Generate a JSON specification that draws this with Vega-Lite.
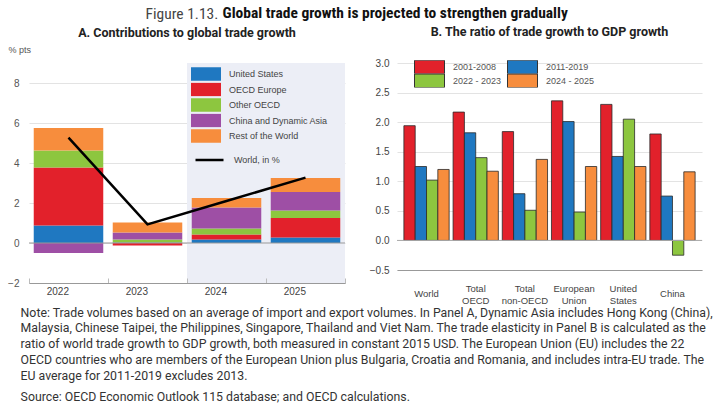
{
  "$schema": "https://vega.github.io/schema/vega-lite/v6.json",
  "background": "white",
  "padding": {"left": 7, "right": 5, "top": 6, "bottom": 5},
  "config": {
    "view": {"stroke": null},
    "font": "Liberation Sans",
    "axis": {"labelFont": "Liberation Sans", "labelColor": "#555", "labelFontSize": 10},
    "legend": {"labelFont": "Liberation Sans", "labelColor": "#555"}
  },
  "title": {
    "text": "Figure 1.13.",
    "anchor": "start",
    "dx": 138,
    "offset": -16,
    "font": "Roboto Condensed, Liberation Sans Narrow, DejaVu Sans Condensed, sans-serif",
    "fontSize": 15.5,
    "fontWeight": "normal",
    "color": "#444"
  },
  "vconcat": [
    {
      "title": {
        "text": "Global trade growth is projected to strengthen gradually",
        "anchor": "start",
        "dx": 215,
        "offset": 4,
        "font": "Roboto Condensed, Liberation Sans Narrow, DejaVu Sans Condensed, sans-serif",
        "fontSize": 15.5,
        "fontWeight": "bold",
        "color": "#111"
      },
      "vconcat": [
        {
          "title": {
            "text": [
              "Note: Trade volumes based on an average of import and export volumes. In Panel A, Dynamic Asia includes Hong Kong (China),",
              "Malaysia, Chinese Taipei, the Philippines, Singapore, Thailand and Viet Nam. The trade elasticity in Panel B is calculated as the",
              "ratio of world trade growth to GDP growth, both measured in constant 2015 USD. The European Union (EU) includes the 22",
              "OECD countries who are members of the European Union plus Bulgaria, Croatia and Romania, and includes intra-EU trade. The",
              "EU average for 2011-2019 excludes 2013."
            ],
            "subtitle": "Source: OECD Economic Outlook 115 database; and OECD calculations.",
            "orient": "bottom",
            "anchor": "start",
            "dx": 13,
            "offset": 2,
            "font": "Roboto",
            "fontSize": 12.3,
            "fontWeight": "normal",
            "lineHeight": 15.8,
            "color": "#333",
            "subtitleFont": "Roboto",
            "subtitleFontSize": 12.3,
            "subtitleColor": "#333",
            "subtitlePadding": 9
          },
          "spacing": 23,
          "resolve": {"scale": {"color": "independent"}, "legend": {"color": "independent"}},
          "hconcat": [
            {
              "width": 316,
              "height": 220,
              "title": {
                "text": "A. Contributions to global trade growth",
                "font": "Roboto",
                "fontSize": 12.5,
                "fontWeight": "bold",
                "color": "#222",
                "anchor": "middle",
                "offset": 6
              },
              "layer": [
                {
                  "data": {"values": [{"year": "2024"}, {"year": "2025"}]},
                  "mark": {"type": "rect", "color": "#eceef6"},
                  "encoding": {
                    "x": {"field": "year", "type": "nominal"}
                  }
                },
                {
                  "data": {"values": [
                    {"year": "2022", "region": "United States", "ord": 1, "value": 0.87},
                    {"year": "2022", "region": "OECD Europe", "ord": 2, "value": 2.91},
                    {"year": "2022", "region": "Other OECD", "ord": 3, "value": 0.84},
                    {"year": "2022", "region": "China and Dynamic Asia", "ord": 4, "value": -0.5},
                    {"year": "2022", "region": "Rest of the World", "ord": 5, "value": 1.13},
                    {"year": "2023", "region": "United States", "ord": 1, "value": 0.03},
                    {"year": "2023", "region": "OECD Europe", "ord": 2, "value": -0.12},
                    {"year": "2023", "region": "Other OECD", "ord": 3, "value": 0.15},
                    {"year": "2023", "region": "China and Dynamic Asia", "ord": 4, "value": 0.34},
                    {"year": "2023", "region": "Rest of the World", "ord": 5, "value": 0.5},
                    {"year": "2024", "region": "United States", "ord": 1, "value": 0.17},
                    {"year": "2024", "region": "OECD Europe", "ord": 2, "value": 0.25},
                    {"year": "2024", "region": "Other OECD", "ord": 3, "value": 0.3},
                    {"year": "2024", "region": "China and Dynamic Asia", "ord": 4, "value": 1.06},
                    {"year": "2024", "region": "Rest of the World", "ord": 5, "value": 0.47},
                    {"year": "2025", "region": "United States", "ord": 1, "value": 0.28},
                    {"year": "2025", "region": "OECD Europe", "ord": 2, "value": 0.97},
                    {"year": "2025", "region": "Other OECD", "ord": 3, "value": 0.37},
                    {"year": "2025", "region": "China and Dynamic Asia", "ord": 4, "value": 0.93},
                    {"year": "2025", "region": "Rest of the World", "ord": 5, "value": 0.7}
                  ]},
                  "mark": {"type": "bar", "width": {"band": 0.88}},
                  "encoding": {
                    "x": {
                      "field": "year", "type": "nominal",
                      "scale": {"paddingInner": 0, "paddingOuter": 0},
                      "axis": {"title": null, "labelAngle": 0, "domainColor": "#999", "tickBand": "extent", "tickColor": "#bbb", "tickSize": -5, "labelPadding": 13, "labelColor": "#444"}
                    },
                    "y": {
                      "field": "value", "type": "quantitative", "stack": "zero",
                      "scale": {"domain": [-2, 9], "nice": false, "zero": false},
                      "axis": {
                        "values": [-2, 0, 2, 4, 6, 8], "grid": true, "gridColor": "#e3e3e3", "domain": false, "ticks": false,
                        "labelPadding": 10, "labelOverlap": false, "title": "% pts", "titleAngle": 0, "titleAlign": "left", "titleBaseline": "middle",
                        "titleX": -21, "titleY": -14, "titleFontSize": 9, "titleFontWeight": "normal", "titleColor": "#555", "titleFont": "Liberation Sans"
                      }
                    },
                    "color": {
                      "field": "region", "type": "nominal",
                      "scale": {
                        "domain": ["United States", "OECD Europe", "Other OECD", "China and Dynamic Asia", "Rest of the World"],
                        "range": ["#1f78c1", "#e2212b", "#8dc63f", "#9e4fa5", "#f78d3d"]
                      },
                      "legend": {
                        "title": null, "orient": "none", "legendX": 162, "legendY": 4,
                        "symbolType": "M-1,-0.45H1V0.45H-1Z", "symbolSize": 900, "clipHeight": 14,
                        "symbolOpacity": 1, "symbolStrokeWidth": 0, "rowPadding": 1.5, "labelFontSize": 9, "labelOffset": 8, "labelColor": "#444"
                      }
                    },
                    "order": {"field": "ord", "type": "quantitative"}
                  }
                },
                {
                  "data": {"values": [{"value": 0}]},
                  "mark": {"type": "rule", "color": "#999", "strokeWidth": 1},
                  "encoding": {
                    "y": {
                      "field": "value", "type": "quantitative",
                      "axis": {
                        "values": [-2, 0, 2, 4, 6, 8], "grid": true, "gridColor": "#e3e3e3", "domain": false, "ticks": false,
                        "labelPadding": 10, "labelOverlap": false, "title": "% pts", "titleAngle": 0, "titleAlign": "left", "titleBaseline": "middle",
                        "titleX": -21, "titleY": -14, "titleFontSize": 9, "titleFontWeight": "normal", "titleColor": "#555", "titleFont": "Liberation Sans"
                      }
                    }
                  }
                },
                {
                  "data": {"values": [
                    {"year": "2022", "value": 5.27},
                    {"year": "2023", "value": 0.93},
                    {"year": "2024", "value": 2.1},
                    {"year": "2025", "value": 3.27}
                  ]},
                  "mark": {"type": "line", "strokeWidth": 2.5},
                  "encoding": {
                    "x": {"field": "year", "type": "nominal"},
                    "y": {
                      "field": "value", "type": "quantitative",
                      "axis": {
                        "values": [-2, 0, 2, 4, 6, 8], "grid": true, "gridColor": "#e3e3e3", "domain": false, "ticks": false,
                        "labelPadding": 10, "labelOverlap": false, "title": "% pts", "titleAngle": 0, "titleAlign": "left", "titleBaseline": "middle",
                        "titleX": -21, "titleY": -14, "titleFontSize": 9, "titleFontWeight": "normal", "titleColor": "#555", "titleFont": "Liberation Sans"
                      }
                    },
                    "stroke": {
                      "datum": "World, in %",
                      "scale": {"range": ["#000000"]},
                      "legend": {
                        "title": null, "orient": "none", "legendX": 165, "legendY": 90,
                        "symbolType": "stroke", "symbolSize": 784, "symbolStrokeWidth": 2.5, "clipHeight": 14,
                        "labelFontSize": 9, "labelOffset": 9, "labelColor": "#444"
                      }
                    }
                  }
                }
              ]
            },
            {
              "width": 305,
              "height": 207,
              "title": {
                "text": "B. The ratio of trade growth to GDP growth",
                "font": "Roboto",
                "fontSize": 12.5,
                "fontWeight": "bold",
                "color": "#222",
                "anchor": "middle",
                "offset": 20
              },
              "layer": [
                {
                  "data": {"values": [
                    {"region": "World", "period": "2001-2008", "value": 1.94},
                    {"region": "World", "period": "2011-2019", "value": 1.25},
                    {"region": "World", "period": "2022 - 2023", "value": 1.02},
                    {"region": "World", "period": "2024 - 2025", "value": 1.2},
                    {"region": "Total OECD", "period": "2001-2008", "value": 2.17},
                    {"region": "Total OECD", "period": "2011-2019", "value": 1.82},
                    {"region": "Total OECD", "period": "2022 - 2023", "value": 1.4},
                    {"region": "Total OECD", "period": "2024 - 2025", "value": 1.17},
                    {"region": "Total non-OECD", "period": "2001-2008", "value": 1.84},
                    {"region": "Total non-OECD", "period": "2011-2019", "value": 0.79},
                    {"region": "Total non-OECD", "period": "2022 - 2023", "value": 0.51},
                    {"region": "Total non-OECD", "period": "2024 - 2025", "value": 1.37},
                    {"region": "European Union", "period": "2001-2008", "value": 2.36},
                    {"region": "European Union", "period": "2011-2019", "value": 2.01},
                    {"region": "European Union", "period": "2022 - 2023", "value": 0.48},
                    {"region": "European Union", "period": "2024 - 2025", "value": 1.25},
                    {"region": "United States", "period": "2001-2008", "value": 2.3},
                    {"region": "United States", "period": "2011-2019", "value": 1.42},
                    {"region": "United States", "period": "2022 - 2023", "value": 2.05},
                    {"region": "United States", "period": "2024 - 2025", "value": 1.25},
                    {"region": "China", "period": "2001-2008", "value": 1.8},
                    {"region": "China", "period": "2011-2019", "value": 0.75},
                    {"region": "China", "period": "2022 - 2023", "value": -0.25},
                    {"region": "China", "period": "2024 - 2025", "value": 1.16}
                  ]},
                  "mark": {"type": "bar", "stroke": "#2a2a2a", "strokeWidth": 0.8},
                  "encoding": {
                    "x": {
                      "field": "region", "type": "nominal",
                      "sort": ["World", "Total OECD", "Total non-OECD", "European Union", "United States", "China"],
                      "scale": {"paddingInner": 0.08, "paddingOuter": 0.14},
                      "axis": {
                        "title": null, "labelAngle": 0, "ticks": false, "domainColor": "#999",
                        "labelExpr": "datum.label == 'World' || datum.label == 'China' ? datum.label : split(datum.label, ' ')",
                        "labelBaseline": "middle", "labelLineHeight": 12,
                        "labelPadding": {"condition": {"test": "datum.label == 'World' || datum.label == 'China'", "value": 23}, "value": 18},
                        "labelFontSize": 9.5, "labelColor": "#444"
                      }
                    },
                    "xOffset": {
                      "field": "period", "type": "nominal",
                      "sort": ["2001-2008", "2011-2019", "2022 - 2023", "2024 - 2025"]
                    },
                    "y": {
                      "field": "value", "type": "quantitative",
                      "scale": {"domain": [-0.5, 3], "nice": false, "zero": false},
                      "axis": {
                        "values": [-0.5, 0, 0.5, 1, 1.5, 2, 2.5, 3], "format": ".1f", "grid": true, "gridColor": "#e3e3e3",
                        "domain": false, "ticks": false, "labelPadding": 8, "labelOverlap": false, "title": null, "labelColor": "#444"
                      }
                    },
                    "color": {
                      "field": "period", "type": "nominal",
                      "scale": {
                        "domain": ["2001-2008", "2022 - 2023", "2011-2019", "2024 - 2025"],
                        "range": ["#e2212b", "#8dc63f", "#1f78c1", "#f78d3d"]
                      },
                      "legend": {
                        "title": null, "orient": "none", "legendX": 17, "legendY": -3, "columns": 2,
                        "symbolType": "M-1,-0.45H1V0.45H-1Z", "symbolSize": 900, "clipHeight": 13.5,
                        "symbolOpacity": 1, "symbolStrokeColor": "#333", "symbolStrokeWidth": 1,
                        "rowPadding": 0, "columnPadding": 5, "labelFontSize": 9, "labelOffset": 8, "labelColor": "#555"
                      }
                    }
                  }
                },
                {
                  "data": {"values": [{"value": 0}]},
                  "mark": {"type": "rule", "color": "#aaa", "strokeWidth": 1},
                  "encoding": {
                    "y": {
                      "field": "value", "type": "quantitative",
                      "axis": {
                        "values": [-0.5, 0, 0.5, 1, 1.5, 2, 2.5, 3], "format": ".1f", "grid": true, "gridColor": "#e3e3e3",
                        "domain": false, "ticks": false, "labelPadding": 8, "labelOverlap": false, "title": null, "labelColor": "#444"
                      }
                    }
                  }
                }
              ]
            }
          ]
        }
      ]
    }
  ]
}
